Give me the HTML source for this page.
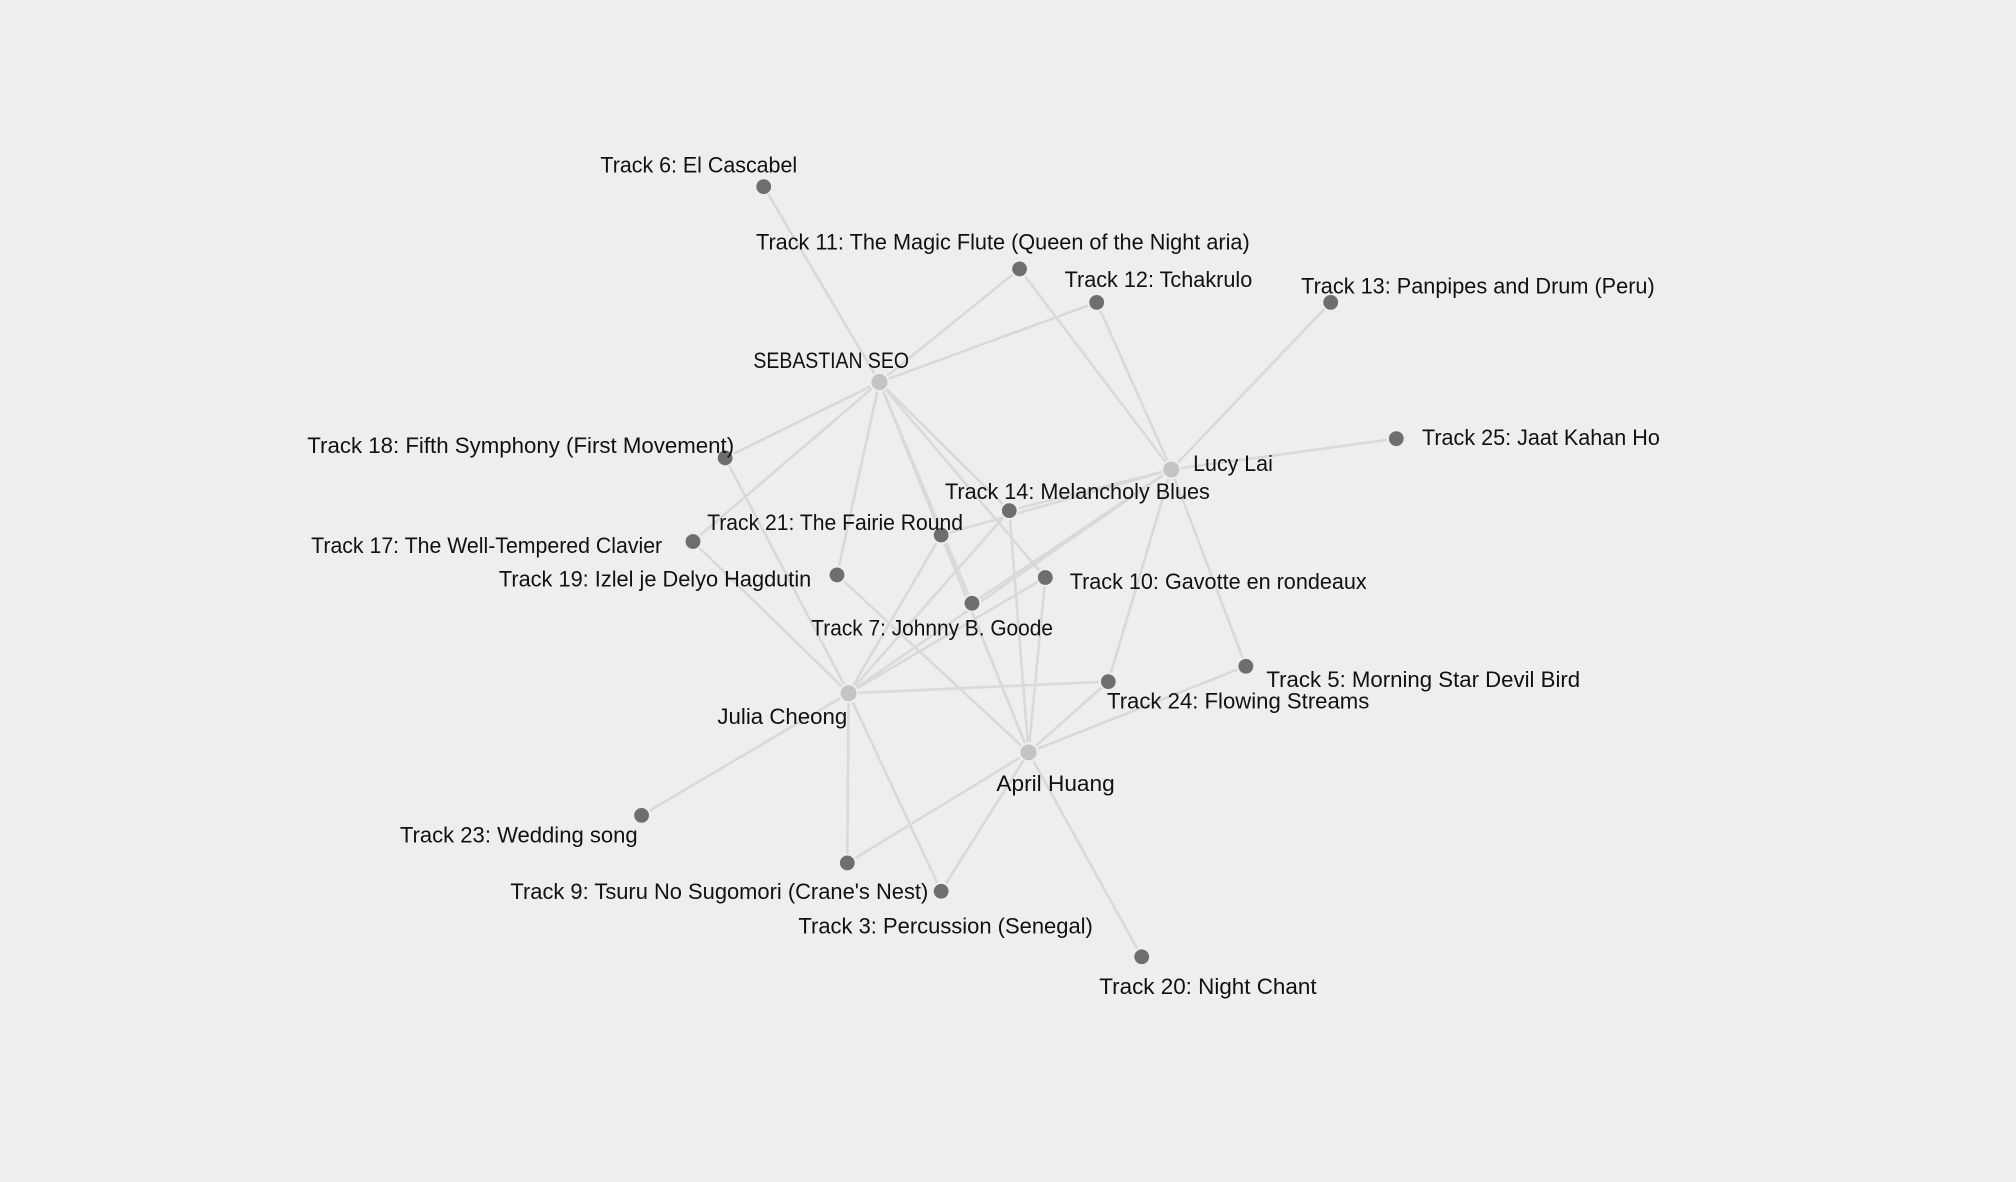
<!DOCTYPE html>
<html><head><meta charset="utf-8"><style>
html,body{margin:0;padding:0;background:#eeeeee;}
svg{display:block;}
text{font-family:"Liberation Sans",sans-serif;font-size:17px;fill:#111;}
</style></head><body>
<svg width="2016" height="1182" viewBox="0 0 1568 919" xmlns="http://www.w3.org/2000/svg">
<rect width="1568" height="919" fill="#eeeeee"/>
<g stroke="#d9d9d9" stroke-width="2" fill="none">
<!-- SEB -->
<line x1="684" y1="297" x2="594" y2="145"/>
<line x1="684" y1="297" x2="793" y2="209"/>
<line x1="684" y1="297" x2="853" y2="235"/>
<line x1="684" y1="297" x2="564" y2="356"/>
<line x1="684" y1="297" x2="539" y2="421"/>
<line x1="684" y1="297" x2="651" y2="447"/>
<line x1="684" y1="297" x2="756" y2="469"/>
<line x1="684" y1="297" x2="813" y2="449"/>
<line x1="684" y1="297" x2="800" y2="585"/>
<line x1="684" y1="297" x2="785" y2="397"/>
<!-- Lucy -->
<line x1="911" y1="365" x2="793" y2="209"/>
<line x1="911" y1="365" x2="853" y2="235"/>
<line x1="911" y1="365" x2="1035" y2="235"/>
<line x1="911" y1="365" x2="1086" y2="341"/>
<line x1="911" y1="365" x2="785" y2="397"/>
<line x1="911" y1="365" x2="732" y2="416"/>
<line x1="911" y1="365" x2="756" y2="469"/>
<line x1="911" y1="365" x2="660" y2="539"/>
<line x1="911" y1="365" x2="862" y2="530"/>
<line x1="911" y1="365" x2="969" y2="518"/>
<!-- Julia -->
<line x1="660" y1="539" x2="564" y2="356"/>
<line x1="660" y1="539" x2="539" y2="421"/>
<line x1="660" y1="539" x2="732" y2="416"/>
<line x1="660" y1="539" x2="785" y2="397"/>
<line x1="660" y1="539" x2="813" y2="449"/>
<line x1="660" y1="539" x2="862" y2="530"/>
<line x1="660" y1="539" x2="499" y2="634"/>
<line x1="660" y1="539" x2="659" y2="671"/>
<line x1="660" y1="539" x2="732" y2="693"/>
<!-- April -->
<line x1="800" y1="585" x2="651" y2="447"/>
<line x1="800" y1="585" x2="732" y2="416"/>
<line x1="800" y1="585" x2="785" y2="397"/>
<line x1="800" y1="585" x2="813" y2="449"/>
<line x1="800" y1="585" x2="862" y2="530"/>
<line x1="800" y1="585" x2="969" y2="518"/>
<line x1="800" y1="585" x2="659" y2="671"/>
<line x1="800" y1="585" x2="732" y2="693"/>
<line x1="800" y1="585" x2="888" y2="744"/>
</g>
<g fill="#6e6e6e" stroke="#eeeeee" stroke-width="1.5">
<circle cx="594" cy="145" r="6.5"/><circle cx="793" cy="209" r="6.5"/><circle cx="853" cy="235" r="6.5"/>
<circle cx="1035" cy="235" r="6.5"/><circle cx="1086" cy="341" r="6.5"/><circle cx="564" cy="356" r="6.5"/>
<circle cx="539" cy="421" r="6.5"/><circle cx="651" cy="447" r="6.5"/><circle cx="732" cy="416" r="6.5"/>
<circle cx="785" cy="397" r="6.5"/><circle cx="813" cy="449" r="6.5"/><circle cx="756" cy="469" r="6.5"/>
<circle cx="862" cy="530" r="6.5"/><circle cx="969" cy="518" r="6.5"/><circle cx="499" cy="634" r="6.5"/>
<circle cx="659" cy="671" r="6.5"/><circle cx="732" cy="693" r="6.5"/><circle cx="888" cy="744" r="6.5"/>
</g>
<g fill="#c4c4c4" stroke="#eeeeee" stroke-width="1.5">
<circle cx="684" cy="297" r="7"/><circle cx="911" cy="365" r="7"/><circle cx="660" cy="539" r="7"/><circle cx="800" cy="585" r="7"/>
</g>
<g>
<text x="467" y="134" textLength="153" lengthAdjust="spacingAndGlyphs">Track 6: El Cascabel</text>
<text x="588" y="194" textLength="384" lengthAdjust="spacingAndGlyphs">Track 11: The Magic Flute (Queen of the Night aria)</text>
<text x="828" y="223" textLength="146" lengthAdjust="spacingAndGlyphs">Track 12: Tchakrulo</text>
<text x="1012" y="228" textLength="275" lengthAdjust="spacingAndGlyphs">Track 13: Panpipes and Drum (Peru)</text>
<text x="586" y="286" textLength="121" lengthAdjust="spacingAndGlyphs">SEBASTIAN SEO</text>
<text x="239" y="352" textLength="332" lengthAdjust="spacingAndGlyphs">Track 18: Fifth Symphony (First Movement)</text>
<text x="1106" y="346" textLength="185" lengthAdjust="spacingAndGlyphs">Track 25: Jaat Kahan Ho</text>
<text x="928" y="366" textLength="62" lengthAdjust="spacingAndGlyphs">Lucy Lai</text>
<text x="735" y="388" textLength="206" lengthAdjust="spacingAndGlyphs">Track 14: Melancholy Blues</text>
<text x="550" y="412" textLength="199" lengthAdjust="spacingAndGlyphs">Track 21: The Fairie Round</text>
<text x="242" y="430" textLength="273" lengthAdjust="spacingAndGlyphs">Track 17: The Well-Tempered Clavier</text>
<text x="388" y="456" textLength="243" lengthAdjust="spacingAndGlyphs">Track 19: Izlel je Delyo Hagdutin</text>
<text x="832" y="458" textLength="231" lengthAdjust="spacingAndGlyphs">Track 10: Gavotte en rondeaux</text>
<text x="631" y="494" textLength="188" lengthAdjust="spacingAndGlyphs">Track 7: Johnny B. Goode</text>
<text x="985" y="534" textLength="244" lengthAdjust="spacingAndGlyphs">Track 5: Morning Star Devil Bird</text>
<text x="861" y="551" textLength="204" lengthAdjust="spacingAndGlyphs">Track 24: Flowing Streams</text>
<text x="558" y="563" textLength="101" lengthAdjust="spacingAndGlyphs">Julia Cheong</text>
<text x="775" y="615" textLength="92" lengthAdjust="spacingAndGlyphs">April Huang</text>
<text x="311" y="655" textLength="185" lengthAdjust="spacingAndGlyphs">Track 23: Wedding song</text>
<text x="397" y="699" textLength="325" lengthAdjust="spacingAndGlyphs">Track 9: Tsuru No Sugomori (Crane's Nest)</text>
<text x="621" y="726" textLength="229" lengthAdjust="spacingAndGlyphs">Track 3: Percussion (Senegal)</text>
<text x="855" y="773" textLength="169" lengthAdjust="spacingAndGlyphs">Track 20: Night Chant</text>
</g>
</svg>
</body></html>
